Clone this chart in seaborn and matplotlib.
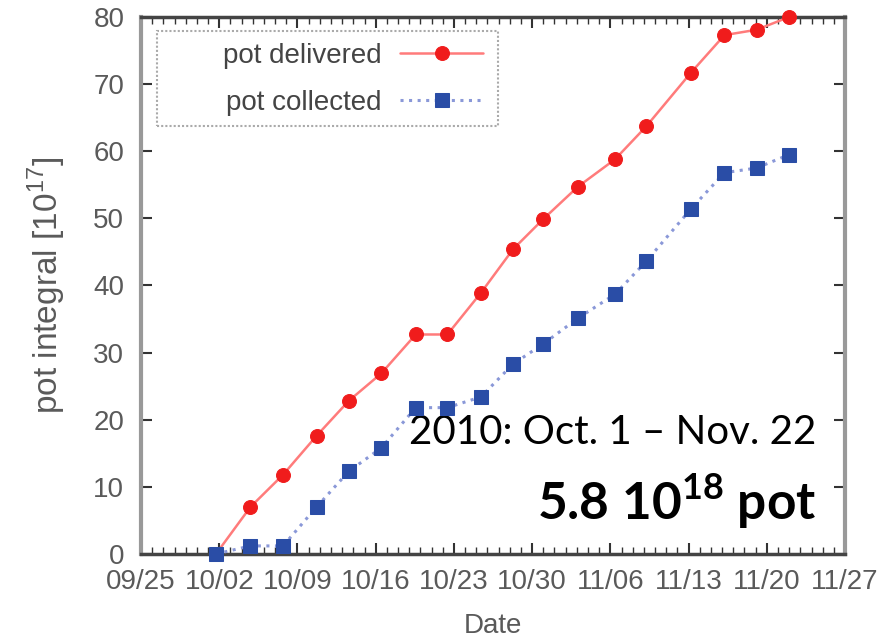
import pandas as pd
import seaborn as sns
import matplotlib.pyplot as plt
import matplotlib.dates as mdates
from matplotlib.patches import Rectangle

# ---- data ----
run_dates = [
    "2010-10-01 17:00", "2010-10-04 19:00", "2010-10-07 17:00", "2010-10-10 17:00",
    "2010-10-13 14:00", "2010-10-16 12:00", "2010-10-19 14:00", "2010-10-22 10:00",
    "2010-10-25 10:00", "2010-10-28 07:00", "2010-10-31 00:00", "2010-11-03 02:00",
    "2010-11-06 10:00", "2010-11-09 05:00", "2010-11-13 05:00", "2010-11-16 05:00",
    "2010-11-19 02:00", "2010-11-22 00:00",
]
pot_delivered = [0.0, 7.0, 11.8, 17.6, 22.8, 26.9, 32.7, 32.7, 38.9, 45.4,
                 49.9, 54.7, 58.8, 63.7, 71.7, 77.3, 78.1, 80.0]
pot_collected = [0.0, 1.2, 1.2, 7.0, 12.3, 15.8, 21.8, 21.8, 23.4, 28.3,
                 31.3, 35.1, 38.7, 43.6, 51.4, 56.8, 57.5, 59.5]
tick_dates = pd.date_range("2010-09-25", "2010-11-27", freq="7D")
y_ticks = list(range(0, 81, 10))

df = pd.DataFrame({
    "Date": pd.to_datetime(run_dates),
    "delivered": pot_delivered,
    "collected": pot_collected,
})

sns.set_style("ticks")
plt.rcParams["font.family"] = ["Liberation Sans", "DejaVu Sans"]

fig = plt.figure(figsize=(8.83, 6.44), dpi=100)
ax = fig.add_axes([0.1597, 0.1398, 0.7973, 0.8338])

sns.lineplot(data=df, x="Date", y="delivered", ax=ax, color="#ff7b7b", linewidth=1.8,
             marker="o", markersize=10, markerfacecolor="#f01c1c",
             markeredgecolor="#f01c1c", label="pot delivered", clip_on=False, zorder=4)
sns.lineplot(data=df, x="Date", y="collected", ax=ax, color="#8a98d8", linewidth=2.2,
             linestyle=(0, (1, 1.8)), marker="s", markersize=10,
             markerfacecolor="#2a4da6", markeredgecolor="#2a4da6",
             label="pot collected", clip_on=False, zorder=4)

ax.set_xlim(tick_dates[0], tick_dates[-1])
ax.set_ylim(0, 80)
ax.set_xticks(tick_dates)
ax.xaxis.set_major_formatter(mdates.DateFormatter("%m/%d"))
ax.xaxis.set_minor_locator(mdates.DayLocator())
ax.set_yticks(y_ticks)

ax.tick_params(which="both", direction="in", top=True, right=True,
               colors="#333333", labelcolor="#5a5a5a", labelsize=20)
ax.tick_params(which="major", length=8, width=1.5)
ax.tick_params(which="minor", length=5, width=1)
ax.tick_params(axis="x", pad=11)
ax.tick_params(axis="y", pad=12)

for side in ["left", "right"]:
    ax.spines[side].set_color("#999999")
    ax.spines[side].set_linewidth(3)
for side in ["top", "bottom"]:
    ax.spines[side].set_color("#444444")
    ax.spines[side].set_linewidth(2.5)

ax.set_xlabel("Date", fontsize=20, color="#5a5a5a", labelpad=13)
ax.set_ylabel("pot integral [10$^{\\mathdefault{17}}$]", fontsize=24,
              color="#5a5a5a", labelpad=18)

# gnuplot-style key: labels on the left, samples on the right, dotted box
leg = ax.legend(loc="upper right", bbox_to_anchor=(0.506, 0.978), markerfirst=False,
                fontsize=20, handlelength=3.0, handletextpad=0.65, borderpad=0,
                labelspacing=0.75, frameon=False)
for t in leg.get_texts():
    t.set_color("#444444")
ax.add_patch(Rectangle((0.0227, 0.797), 0.4843, 0.177, transform=ax.transAxes,
                       fill=False, edgecolor="#aaaaaa", linewidth=1.5,
                       linestyle=(0, (1, 1)), zorder=3))

ax.text(0.960, 0.205, "2010: Oct. 1 \u2013 Nov. 22", transform=ax.transAxes,
        ha="right", va="baseline", fontsize=29, family=["Lato", "DejaVu Sans"],
        color="black")
ax.text(0.960, 0.063, "5.8 10$^{\\mathdefault{18}}$ pot", transform=ax.transAxes,
        ha="right", va="baseline", fontsize=37, fontweight="bold",
        family=["Lato", "DejaVu Sans"], color="black")

plt.savefig("out.png", dpi=100)
